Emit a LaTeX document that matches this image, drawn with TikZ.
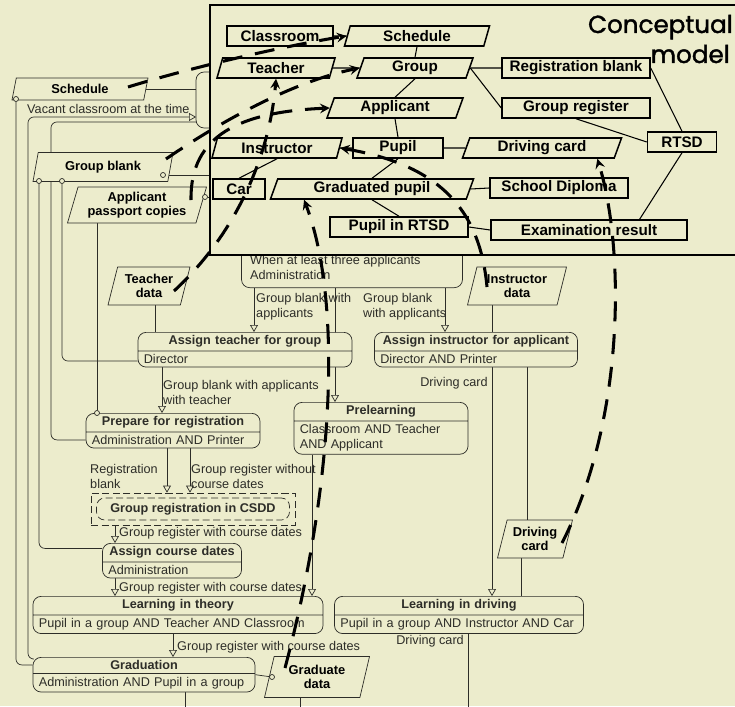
\documentclass[tikz,border=0pt]{standalone}
\usepackage{fontspec}
\setmainfont{Liberation Sans}
\newfontfamily\titlefont[FakeBold=1.5]{Poppins}
\usetikzlibrary{shapes.geometric, shapes.multipart, arrows}

\definecolor{paper}{RGB}{236,236,204}
\definecolor{ink}{RGB}{45,45,40}

\pgfdeclarelayer{paperlayer}
\pgfdeclarelayer{flowlayer}
\pgfsetlayers{paperlayer,flowlayer,main}

\tikzstyle{entity} = [rectangle, minimum height=0.6cm, inner sep=0pt, text centered, draw=black, line width=1.3pt, fill=paper, font=\fontsize{13}{15}\selectfont\bfseries]
\tikzstyle{entityio} = [trapezium, trapezium left angle=63, trapezium right angle=117, trapezium stretches body, minimum height=0.6cm, inner sep=0pt, text centered, draw=black, line width=1.3pt, fill=paper, font=\fontsize{13}{15}\selectfont\bfseries]
\tikzstyle{assoc} = [line width=0.9pt, black]
\tikzstyle{dataobj} = [trapezium, trapezium left angle=70, trapezium right angle=110, trapezium stretches body, inner sep=1pt, align=center, draw=ink, line width=0.6pt, fill=paper, text=black, font=\fontsize{11}{12.5}\selectfont\bfseries]
\tikzstyle{action} = [rectangle split, rectangle split parts=2, rounded corners=7pt, inner xsep=5pt, inner ysep=2.6pt, draw=ink, line width=0.6pt, fill=paper, text=ink, font=\fontsize{10.8}{12.5}\selectfont]
\tikzstyle{actionbox} = [rectangle, rounded corners=7pt, draw=ink, line width=0.6pt, fill=paper]
\tikzstyle{joint} = [circle, draw=ink, line width=0.6pt, fill=paper, inner sep=0pt, minimum size=0.15cm]
\tikzstyle{flowline} = [ink, line width=0.6pt, rounded corners=5pt]
\tikzstyle{flowarrow} = [flowline, -open triangle 60]
\tikzstyle{flowlabel} = [inner sep=0pt, align=left, text=ink, font=\fontsize{10.8}{12.5}\selectfont]
\tikzstyle{sketch} = [thick, ->, >=stealth, line width=2.6pt, dash pattern=on 17pt off 11pt]
\tikzstyle{heading} = [anchor=base east, inner sep=0pt, font=\titlefont\fontsize{21}{25}\selectfont]

\newcommand{\acttitle}[1]{\makebox[\hsize][c]{\textbf{#1}}}

\begin{document}
\begin{tikzpicture}[x=0.03cm, y=-0.03cm]
	\useasboundingbox (0,0) rectangle (735,706);
	\clip (0,0) rectangle (735,706);
	\begin{pgfonlayer}{paperlayer}
		\fill[paper] (0,0) rectangle (735,706);
	\end{pgfonlayer}

	% activity diagram underneath
	\node (hiddenact) [actionbox, minimum width=3.72cm, minimum height=1.68cm] at (258,100) {};
	\node (gather) [actionbox, minimum width=6.63cm, minimum height=2.2cm] at (352,251) {};
	\node (gatherwhen) [flowlabel, anchor=west] at (250,261) {When at least three applicants};
	\node (gatherwho) [flowlabel, anchor=west] at (250,275) {Administration};

	\node (schdata) [dataobj, minimum width=4.08cm, minimum height=0.66cm] at (80,89) {Schedule};
	\node (groupblank) [dataobj, minimum width=4.2cm, minimum height=0.87cm] at (103,167) {Group blank};
	\node (passport) [dataobj, minimum width=4.17cm, minimum height=1.08cm] at (137,205) {Applicant\\passport copies};
	\node (teacherdata) [dataobj, minimum width=2.46cm, minimum height=1.14cm] at (149,286) {Teacher\\data};
	\node (instrdata) [dataobj, minimum width=2.97cm, minimum height=1.14cm] at (517,286) {Instructor\\data};
	\node (drivdata) [dataobj, minimum width=2.25cm, minimum height=1.14cm] at (535,539) {Driving\\card};
	\node (graddata) [dataobj, minimum width=3.15cm, minimum height=1.23cm] at (317,677) {Graduate\\data};

	\node (assignteacher) [action, text width=6.07cm, anchor=north] at (245,332) {\acttitle{Assign teacher for group}\nodepart{two}Director};
	\node (assigninstr) [action, text width=5.74cm, anchor=north] at (476,332) {\acttitle{Assign instructor for applicant}\nodepart{two}Director AND Printer};
	\node (prelearn) [action, text width=4.87cm, anchor=north] at (381,402) {\acttitle{Prelearning}\nodepart{two}Classroom AND Teacher\\AND Applicant};
	\node (prepare) [action, text width=4.87cm, anchor=north] at (173,413) {\acttitle{Prepare for registration}\nodepart{two}Administration AND Printer};
	\node (csddframe) [rectangle, draw=ink, dash pattern=on 6pt off 3pt, line width=0.6pt, minimum width=6.12cm, minimum height=0.96cm] at (193,509) {};
	\node (csdd) [rectangle, rounded corners=7pt, draw=ink, dash pattern=on 6pt off 3pt, line width=0.6pt, minimum width=5.79cm, minimum height=0.66cm, text=ink, font=\fontsize{10.8}{12.5}\selectfont\bfseries] at (193,509) {Group registration in CSDD};
	\node (assigndates) [action, text width=3.82cm, anchor=north] at (172,543) {\acttitle{Assign course dates}\nodepart{two}Administration};
	\node (learntheory) [action, text width=8.35cm, anchor=north] at (178,596) {\acttitle{Learning in theory}\nodepart{two}Pupil in a group AND Teacher AND Classroom};
	\node (learndrive) [action, text width=7.12cm, anchor=north] at (459,596) {\acttitle{Learning in driving}\nodepart{two}Pupil in a group AND Instructor AND Car};
	\node (graduation) [action, text width=6.31cm, anchor=north] at (144,657) {\acttitle{Graduation}\nodepart{two}Administration AND Pupil in a group};

	\node (schjoint) [joint] at (16,99) {};
	\node (gbjointa) [joint] at (39,181) {};
	\node (gbjointb) [joint] at (62,181) {};
	\node (gbjointc) [joint] at (163,175) {};
	\node (apjoint) [joint] at (205,197) {};
	\node (prepjoint) [joint] at (97,413) {};
	\node (gradjoint) [joint] at (272,677) {};

	\coordinate (vacin) at (196,117);
	\coordinate (schout) at (200,122);
	\coordinate (gbout) at (214,175);
	\coordinate (apout) at (214,197);
	\coordinate (gradend) at (185,712);
	\coordinate (graddataend) at (300,712);
	\coordinate (driveend) at (468,712);

	\begin{pgfonlayer}{flowlayer}
		\draw[flowline] (gather.west |- 0,268) -- (gather.east |- 0,268);
		\draw[flowline] (schjoint) |- (graduation.175);
		\draw[flowarrow] (graduation.172) -| (28,117) -- (vacin);
		\draw[flowline] (gbjointa) |- (assigndates.170);
		\draw[flowline] (schout) -| (prepare.186 -| 51,0) -- (prepare.186);
		\draw[flowline] (gbjointb) |- (assignteacher.186);
		\draw[flowline] (gbjointc) -- (gbout);
		\draw[flowline] (apjoint) -- (apout);
		\draw[flowline] (prepjoint) -- (prepjoint |- passport.south);
		\draw[flowline] (schdata.east) -- (hiddenact.west |- schdata.east);
		\draw[flowline] (teacherdata.south -| 155,0) -- (assignteacher.north -| 155,0);
		\draw[flowarrow] (gather.south -| 254,0) -- (assignteacher.north -| 254,0);
		\draw[flowarrow] (gather.south -| 445,0) -- (assigninstr.north -| 445,0);
		\draw[flowarrow] (gather.south -| 335,0) -- (prelearn.north -| 335,0);
		\draw[flowline] (instrdata.south -| 492,0) -- (assigninstr.north -| 492,0);
		\draw[flowarrow] (assignteacher.south -| 162,0) -- (prepare.north -| 162,0);
		\draw[flowarrow] (assigninstr.south -| 492,0) -- (learndrive.north -| 492,0);
		\draw[flowline] (assigninstr.south -| 527,0) -- (drivdata.north -| 527,0);
		\draw[flowline] (drivdata.south -| 521,0) -- (learndrive.north -| 521,0);
		\draw[flowarrow] (prepare.south -| 167,0) -- (csddframe.north -| 167,0);
		\draw[flowarrow] (prepare.south -| 190,0) -- (csddframe.north -| 190,0);
		\draw[flowarrow] (csddframe.south -| 115,0) -- (assigndates.north -| 115,0);
		\draw[flowarrow] (assigndates.south -| 115,0) -- (learntheory.north -| 115,0);
		\draw[flowarrow] (prelearn.south -| 312,0) -- (learntheory.north -| 312,0);
		\draw[flowarrow] (learntheory.south -| 173,0) -- (graduation.north -| 173,0);
		\draw[flowline] (graduation.east) -- (gradjoint);
		\draw[flowline] (graduation.south -| gradend) -- (gradend);
		\draw[flowline] (graddata.south -| graddataend) -- (graddataend);
		\draw[flowline] (learndrive.south -| driveend) -- (driveend);
	\end{pgfonlayer}

	\node (vacantlbl) [flowlabel, anchor=south west] at (27,114) {Vacant classroom at the time};
	\node (gblbla) [flowlabel, anchor=north west] at (256,293) {Group blank with\\applicants};
	\node (gblblb) [flowlabel, anchor=north west] at (363,293) {Group blank\\with applicants};
	\node (teacherlbl) [flowlabel, anchor=north west] at (163,380) {Group blank with applicants\\with teacher};
	\node (regblanklbl) [flowlabel, anchor=north west] at (90,464) {Registration\\blank};
	\node (nodateslbl) [flowlabel, anchor=north west] at (191,464) {Group register without\\course dates};
	\node (datesalbl) [flowlabel, anchor=west] at (119,533) {Group register with course dates};
	\node (datesblbl) [flowlabel, anchor=west] at (119,588) {Group register with course dates};
	\node (datesclbl) [flowlabel, anchor=west] at (177,647) {Group register with course dates};
	\node (cardalbl) [flowlabel, anchor=east] at (488,383) {Driving card};
	\node (cardblbl) [flowlabel, anchor=east] at (464,641) {Driving card};

	% conceptual model on top
	\node (cmframe) [draw=black, line width=1.2pt, fill=paper, minimum width=16.5cm, minimum height=7.5cm, inner sep=0pt] at (485,130) {};
	\node (cmtitle) [heading] at (733,33) {Conceptual};
	\node (cmtitlelow) [heading] at (730,63) {model};

	\node (classroom) [entity, minimum width=3.18cm] at (280,36) {Classroom};
	\node (schedule) [entityio, minimum width=4.35cm] at (417,36) {Schedule};
	\node (teacher) [entityio, minimum width=3.54cm] at (276,68) {Teacher};
	\node (group) [entityio, minimum width=3.48cm] at (415,68) {Group};
	\node (regblank) [entity, minimum width=4.44cm] at (576,68) {Registration blank};
	\node (applicant) [entityio, minimum width=4.08cm] at (395,108) {Applicant};
	\node (groupreg) [entity, minimum width=4.44cm] at (576,108) {Group register};
	\node (rtsd) [entity, minimum width=2.07cm] at (682,142) {RTSD};
	\node (instructor) [entityio, minimum width=3.9cm] at (277,148) {Instructor};
	\node (pupil) [entity, minimum width=2.7cm] at (398,148) {Pupil};
	\node (drivcard) [entityio, minimum width=4.77cm] at (542,148) {Driving card};
	\node (car) [entity, minimum width=1.56cm] at (239,189) {Car};
	\node (gradpupil) [entityio, minimum width=6.09cm] at (372,189) {Graduated pupil};
	\node (diploma) [entity, minimum width=4.14cm] at (559,188) {School Diploma};
	\node (pupilrtsd) [entity, minimum width=4.14cm] at (399,227) {Pupil in RTSD};
	\node (exam) [entity, minimum width=5.88cm] at (589,230) {Examination result};

	\draw[assoc] (classroom.east) -- (schedule.west);
	\draw[assoc] (schedule.south) -- (group.north);
	\draw[assoc] (teacher.east) -- (group.west);
	\draw[assoc] (group.south) -- (applicant.north);
	\draw[assoc] (group.east) -- (regblank.west);
	\draw[assoc] (group.east) -- (groupreg.west);
	\draw[assoc] (regblank.east) -- (rtsd.north);
	\draw[assoc] (groupreg.south) -- (rtsd.west);
	\draw[assoc] (rtsd.south) -- (exam.12);
	\draw[assoc] (applicant.south) -- (pupil.north);
	\draw[assoc] (pupil.west) -- (instructor.east);
	\draw[assoc] (pupil.east) -- (drivcard.west);
	\draw[assoc] (pupil.south) -- (gradpupil.north);
	\draw[assoc] (instructor.south) -- (car.north);
	\draw[assoc] (gradpupil.east) -- (diploma.west);
	\draw[assoc] (gradpupil.south) -- (pupilrtsd.north);
	\draw[assoc] (pupilrtsd.east) -- (exam.west);

	% hand-drawn mapping arrows
	\coordinate (schstart) at (128,87);
	\coordinate (gbstart) at (166,159);
	\coordinate (apstart) at (191,200);
	\coordinate (tdstart) at (174,291);
	\coordinate (idstart) at (487,287);
	\coordinate (gdstart) at (285,668);
	\coordinate (dcstart) at (562,543);
	\draw[sketch] (schstart) .. controls (200,65) and (290,45) .. (schedule.west);
	\draw[sketch] (gbstart) .. controls (230,115) and (300,80) .. (group.west);
	\draw[sketch] (apstart) .. controls (190,135) and (240,112) .. (applicant.west);
	\draw[sketch] (tdstart) .. controls (240,230) and (270,150) .. (teacher.south);
	\draw[sketch] (idstart) .. controls (480,210) and (440,165) .. (instructor.east);
	\draw[sketch] (gdstart) .. controls (335,480) and (342,300) .. (gradpupil.189);
	\draw[sketch] (dcstart) .. controls (625,420) and (625,250) .. (drivcard.349);
\end{tikzpicture}
\end{document}
